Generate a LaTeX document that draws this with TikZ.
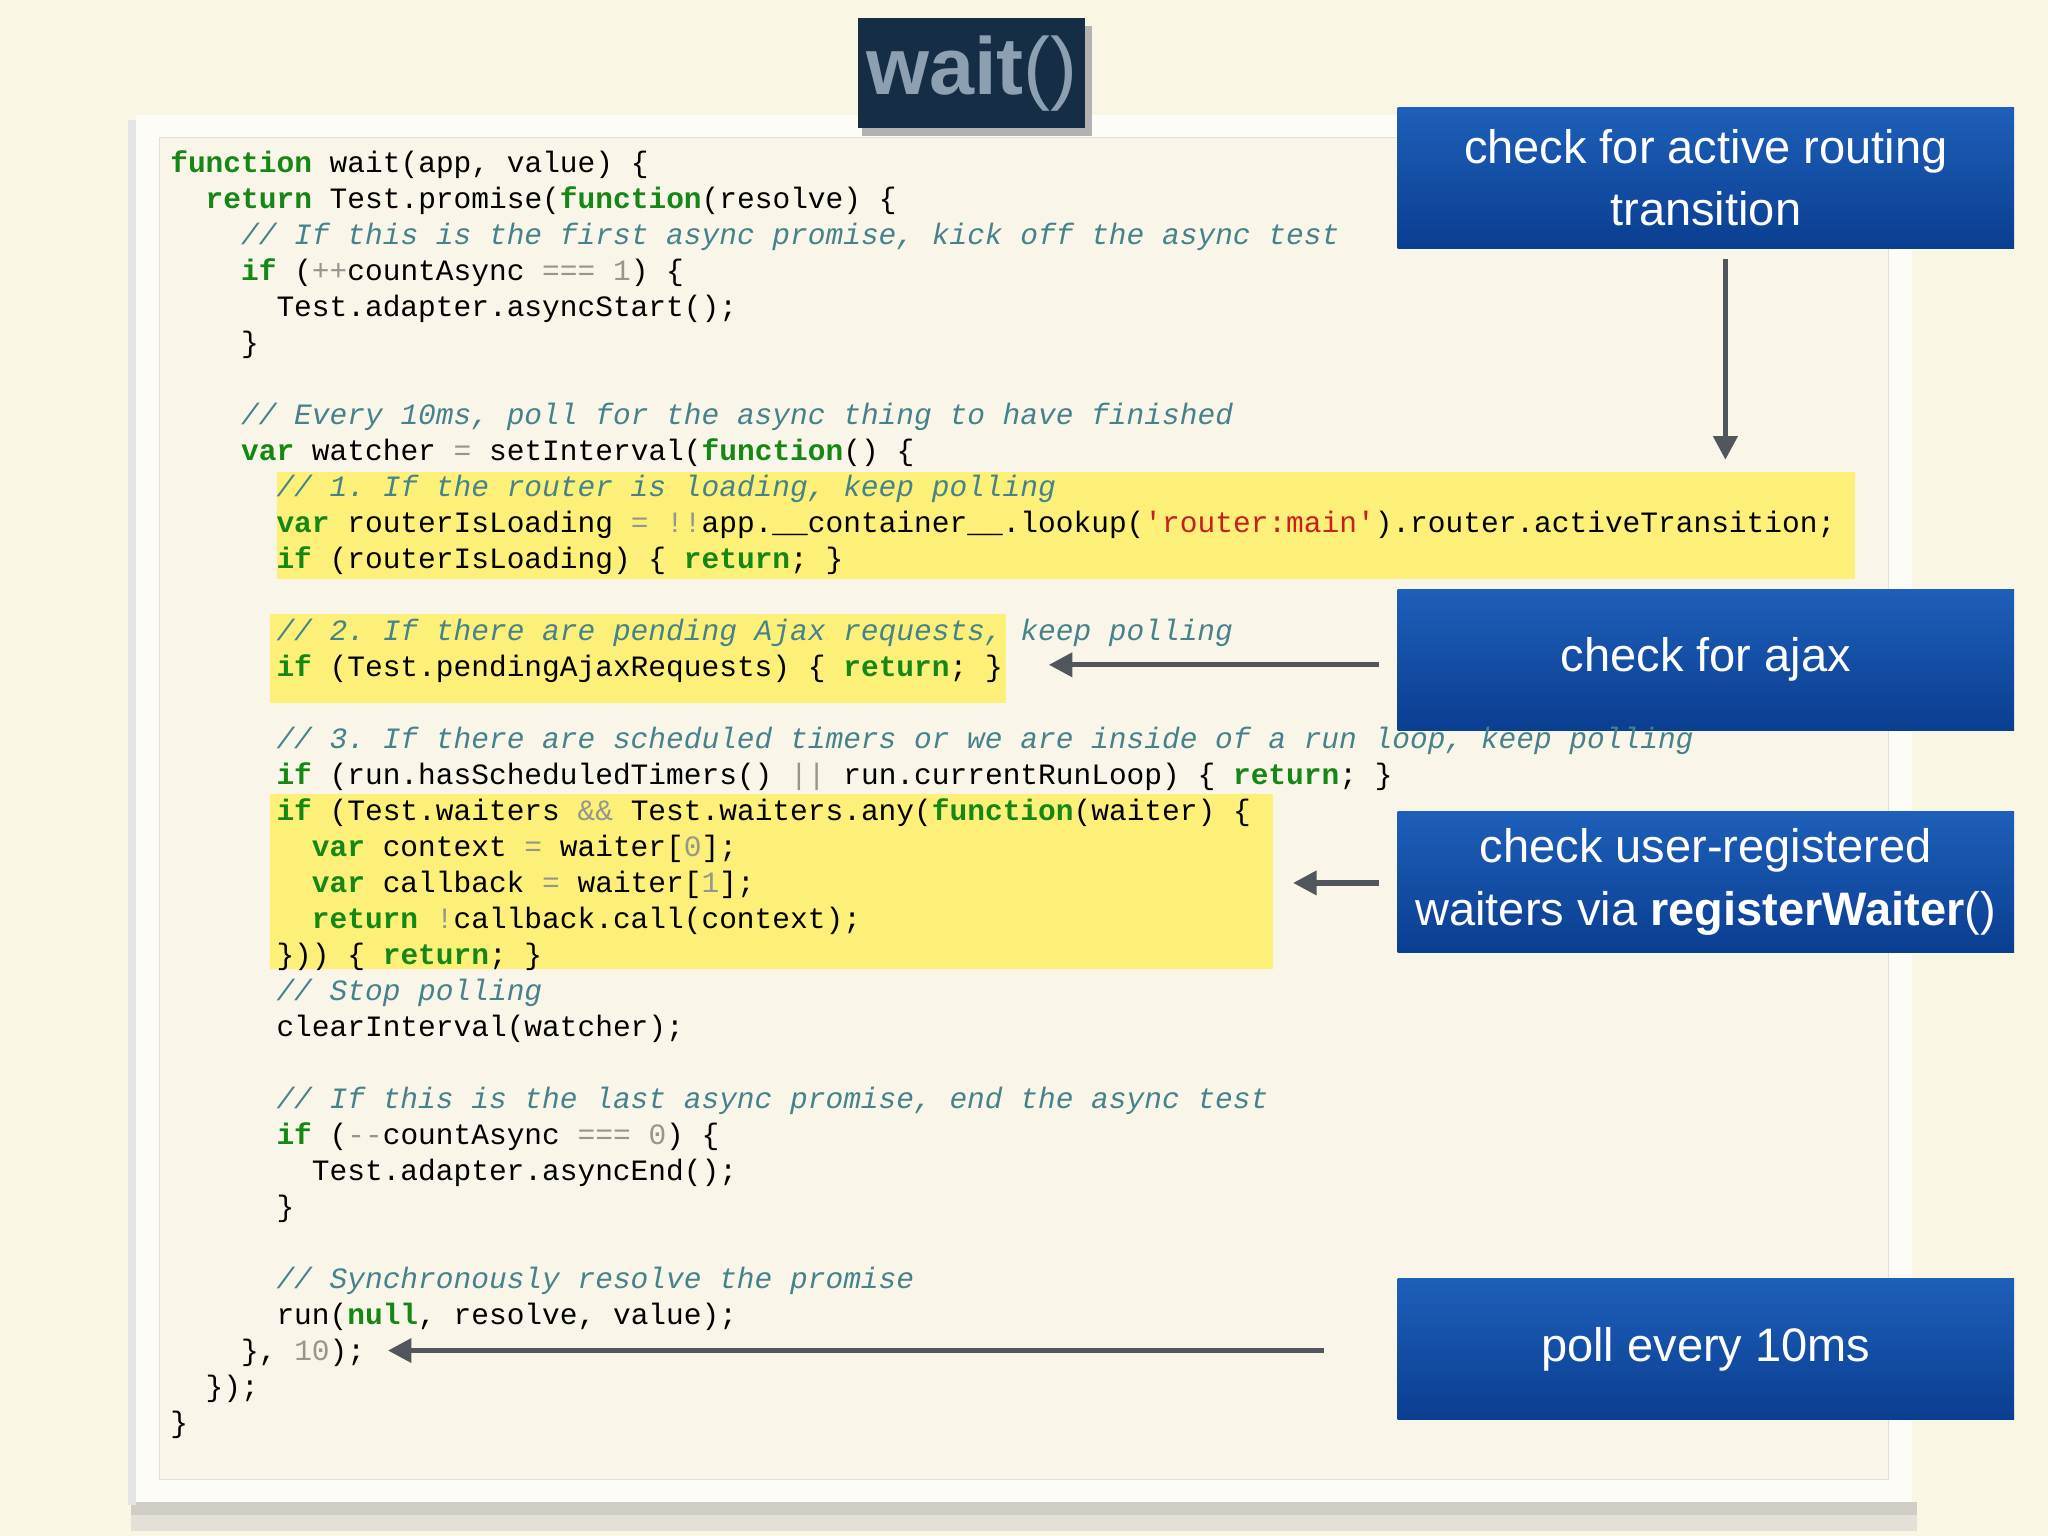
\documentclass[tikz,border=0pt]{standalone}
\usepackage{fontspec}
\setmainfont{Liberation Sans}
\setmonofont{Liberation Mono}
\usetikzlibrary{arrows.meta}
\definecolor{bg}{RGB}{250,246,228}
\definecolor{panel}{RGB}{253,252,247}
\definecolor{inner}{RGB}{249,245,232}
\definecolor{hl}{RGB}{252,240,120}
\definecolor{kwc}{RGB}{20,135,20}
\definecolor{cmc}{RGB}{70,130,140}
\definecolor{opc}{RGB}{150,150,140}
\definecolor{stc}{RGB}{200,30,30}
\definecolor{navy}{RGB}{22,45,70}
\definecolor{titlec}{RGB}{140,160,178}
\definecolor{btop}{RGB}{30,95,185}
\definecolor{bbot}{RGB}{10,62,145}
\definecolor{arr}{RGB}{80,86,92}
\newcommand{\kw}[1]{\textcolor{kwc}{\bfseries #1}}
\newcommand{\cm}[1]{\textcolor{cmc}{\itshape #1}}
\newcommand{\op}[1]{\textcolor{opc}{#1}}
\newcommand{\nm}[1]{\textcolor{opc}{#1}}
\newcommand{\stx}[1]{\textcolor{stc}{#1}}
\tikzset{
 code/.style={anchor=base west,inner sep=0pt,font=\ttfamily\fontsize{11.3}{13}\selectfont},
 note/.style={draw=none,top color=btop,bottom color=bbot,minimum width=236pt,minimum height=54pt,text=white,align=center,font=\fontsize{18}{24}\selectfont},
 pt/.style={draw=arr,line width=2pt,-{Triangle[length=9pt,width=9pt]}}
}
\begin{document}
\begin{tikzpicture}[x=0.5pt,y=-0.5pt]
\useasboundingbox (0,0) rectangle (1568,1176);
\fill[bg] (0,0) rectangle (1568,1176);
% shadow
\fill[black!35,opacity=0.5] (100,1150) rectangle (1468,1160);
\fill[black!20,opacity=0.5] (100,1160) rectangle (1468,1172);
\fill[black!10] (98,92) rectangle (104,1152);
\fill[panel] (104,88) rectangle (1464,1150);
\draw[black!12,fill=inner] (122,105) rectangle (1446,1133);
% highlights
\fill[hl] (212,361) rectangle (1420,443);
\fill[hl] (207,470) rectangle (770,538);
\fill[hl] (207,608) rectangle (975,742);
% title
\fill[black!30] (660,20) rectangle (836,104);
\node[fill=navy,minimum width=87pt,minimum height=42pt,inner sep=0pt,text=titlec,font=\fontsize{31}{31}\selectfont] (title) at (744,56) {\textbf{wait}()};
% notes
\node[note] (n1) at (1306,136) {check for active routing\\transition};
\node[note] (n2) at (1306,505) {check for ajax};
\node[note] (n3) at (1306,675) {check user-registered\\waiters via \textbf{registerWaiter}()};
\node[note] (n4) at (1306,1033) {poll every 10ms};
% arrow targets
\coordinate (a1) at (1321,352);
\coordinate (a2) at (803,509);
\coordinate (a3) at (990,676);
\coordinate (a4) at (297,1034);
\draw[pt] ([yshift=-4pt]n1.south -| a1) -- (a1);
\draw[pt] ([xshift=-7pt]n2.west |- a2) -- (a2);
\draw[pt] ([xshift=-7pt]n3.west |- a3) -- (a3);
\draw[pt] ([xshift=-28pt]n4.west |- a4) -- (a4);
% code
\def\L#1#2#3{\node[code] (c#1) at ({130+13.55*#2},{132+27.57*(#1-1)}) {#3};}
\L{1}{0}{\kw{function} wait(app, value) \{}
\L{2}{2}{\kw{return} Test.promise(\kw{function}(resolve) \{}
\L{3}{4}{\cm{// If this is the first async promise, kick off the async test}}
\L{4}{4}{\kw{if} (\op{++}countAsync \op{===} \nm{1}) \{}
\L{5}{6}{Test.adapter.asyncStart();}
\L{6}{4}{\}}
\L{8}{4}{\cm{// Every 10ms, poll for the async thing to have finished}}
\L{9}{4}{\kw{var} watcher \op{=} setInterval(\kw{function}() \{}
\L{10}{6}{\cm{// 1. If the router is loading, keep polling}}
\L{11}{6}{\kw{var} routerIsLoading \op{=} \op{!!}app.\_\_container\_\_.lookup(\stx{'router:main'}).router.activeTransition;}
\L{12}{6}{\kw{if} (routerIsLoading) \{ \kw{return}; \}}
\L{14}{6}{\cm{// 2. If there are pending Ajax requests, keep polling}}
\L{15}{6}{\kw{if} (Test.pendingAjaxRequests) \{ \kw{return}; \}}
\L{17}{6}{\cm{// 3. If there are scheduled timers or we are inside of a run loop, keep polling}}
\L{18}{6}{\kw{if} (run.hasScheduledTimers() \op{||} run.currentRunLoop) \{ \kw{return}; \}}
\L{19}{6}{\kw{if} (Test.waiters \op{\&\&} Test.waiters.any(\kw{function}(waiter) \{}
\L{20}{8}{\kw{var} context \op{=} waiter[\nm{0}];}
\L{21}{8}{\kw{var} callback \op{=} waiter[\nm{1}];}
\L{22}{8}{\kw{return} \op{!}callback.call(context);}
\L{23}{6}{\})) \{ \kw{return}; \}}
\L{24}{6}{\cm{// Stop polling}}
\L{25}{6}{clearInterval(watcher);}
\L{27}{6}{\cm{// If this is the last async promise, end the async test}}
\L{28}{6}{\kw{if} (\op{{-}{-}}countAsync \op{===} \nm{0}) \{}
\L{29}{8}{Test.adapter.asyncEnd();}
\L{30}{6}{\}}
\L{32}{6}{\cm{// Synchronously resolve the promise}}
\L{33}{6}{run(\kw{null}, resolve, value);}
\L{34}{4}{\}, \nm{10});}
\L{35}{2}{\});}
\L{36}{0}{\}}
\end{tikzpicture}
\end{document}
